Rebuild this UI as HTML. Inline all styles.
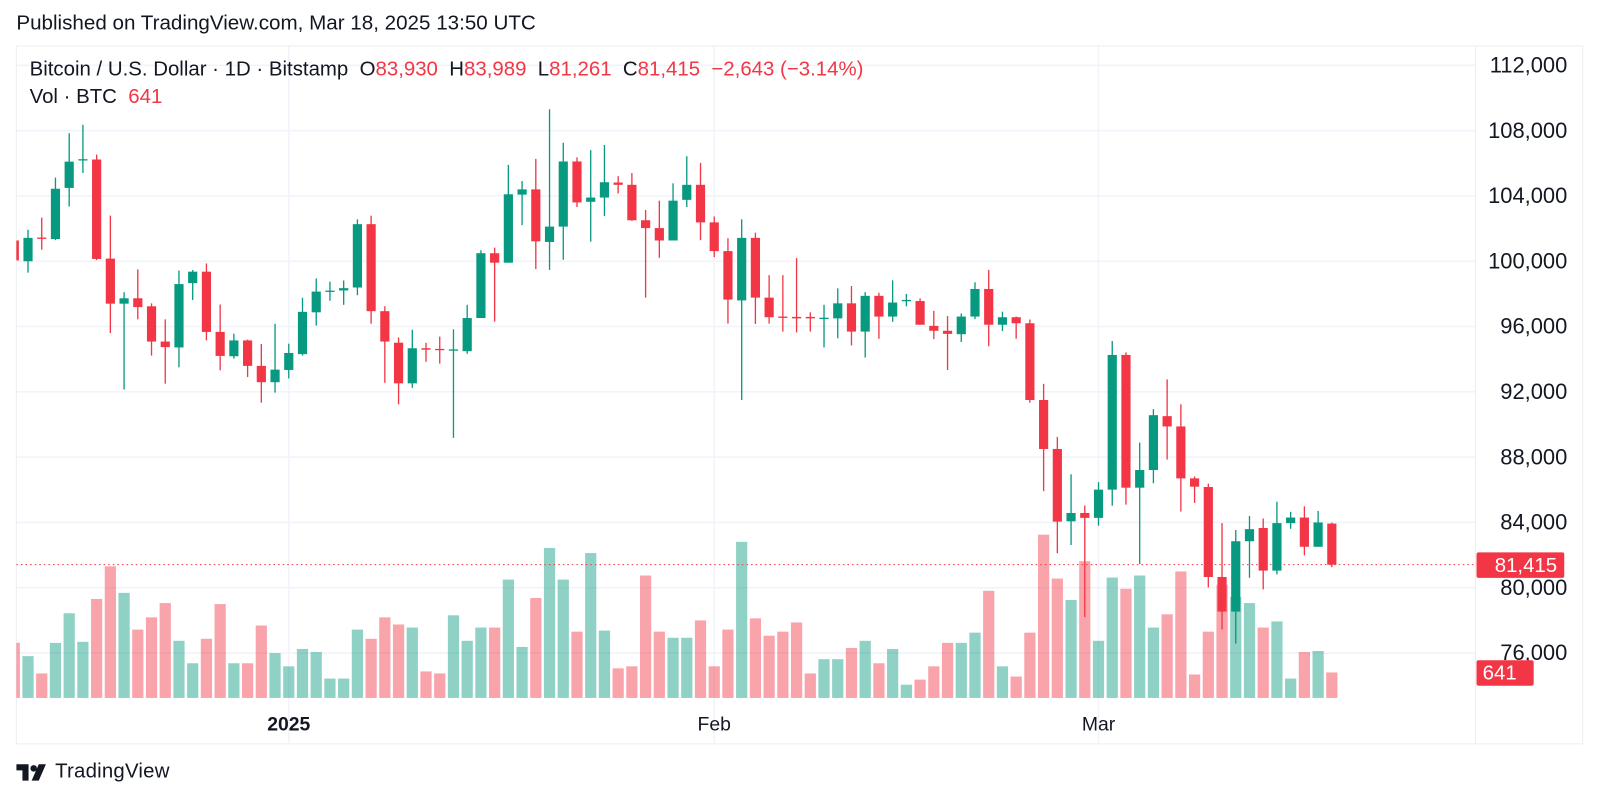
<!DOCTYPE html>
<html><head><meta charset="utf-8">
<style>
body{margin:0;background:#fff;width:1600px;height:802px;overflow:hidden;font-family:"Liberation Sans",sans-serif;color:#131722}
#root{position:absolute;left:0;top:0;width:1568px;height:786px;transform:scale(1.0204);transform-origin:0 0}
.abs{position:absolute;white-space:nowrap}
.r{color:#F23645}
</style></head>
<body>
<div id="root">
<div class="abs" style="left:16px;top:12px;font-size:20.2px">Published on TradingView.com, Mar 18, 2025 13:50 UTC</div>
<svg id="chart" width="1568" height="786" style="position:absolute;left:0;top:0"></svg>
<div class="abs" style="left:29px;top:57px;font-size:20px">Bitcoin / U.S. Dollar · 1D · Bitstamp &nbsp;O<span class="r">83,930</span> &nbsp;H<span class="r">83,989</span> &nbsp;L<span class="r">81,261</span> &nbsp;C<span class="r">81,415</span> &nbsp;<span class="r">−2,643 (−3.14%)</span></div>
<div class="abs" style="left:29px;top:84px;font-size:20px">Vol · BTC &nbsp;<span class="r">641</span></div>
<div class="abs" style="left:16px;top:745px;font-size:20px;display:flex;align-items:center">
<svg width="34" height="20" viewBox="0 0 34 20"><path d="M0 2h12v16H6V8H0z" fill="#131722"/><circle cx="17" cy="6" r="3.2" fill="#131722"/><path d="M22 2h7l-7 16h-7z" fill="#131722"/></svg>
<span style="margin-left:4px;letter-spacing:0.2px">TradingView</span></div>
</div>
<script>
const opens=[101270,100000,101450,101360,104490,106190,106230,100160,97400,97730,97240,95080,94720,98660,99360,95670,94180,95150,93590,92590,
93340,94310,96870,98120,98210,98390,102270,96940,95010,92520,94670,94630,94520,94490,96520,100490,99910,104080,104400,101180,102120,106110,103640,103900,104820,104680,102510,102030,101270,103760,104680,
102380,100620,97600,101430,97770,96610,96590,96590,96470,96500,97420,95690,97880,96610,97560,97560,96040,95740,95530,96610,98300,96110,96570,96200,91500,88500,84070,84580,
84280,86010,94260,86130,87210,90510,89880,86700,86170,80660,78540,82850,83660,81050,83960,84300,82510,83930];
const highs=[101800,101930,102670,105120,107840,108360,106530,102790,98100,99500,97420,96440,99430,99460,99860,97350,95560,95200,94930,96170,
94950,97760,98940,98750,98820,102560,102790,97240,95330,95800,95000,95380,95830,97330,100670,100830,105900,104910,106270,109310,107260,106360,106800,107120,105210,105400,103140,103710,104770,106430,106020,
102740,101410,102560,101750,99150,99150,100190,96870,97330,98340,98480,98110,98070,98830,98000,97720,96960,96640,96800,98710,99470,96910,96610,96430,92490,89240,86950,85040,
86470,95110,94420,88890,90940,92760,91240,86820,86380,83960,83540,84400,84240,85270,84650,84990,84700,83989];
const lows=[99900,99300,100700,101290,103350,105400,100070,95600,92140,96440,94220,92500,93500,97620,95150,93320,94040,92910,91340,91950,
92820,94220,96060,97580,97330,97920,96170,92550,91230,92250,93840,93730,89180,94330,96520,96300,99910,102210,99520,99470,100090,103320,101200,102770,104150,102470,97770,100210,101270,103320,101290,
100250,96180,91500,96160,96180,95690,95640,95690,94720,95280,94840,94100,95250,96290,97240,96110,95230,93340,95050,96450,94790,95720,95250,91330,85920,82110,82620,78200,
83800,85020,85090,81450,86400,87850,84670,85200,80020,77440,76580,80610,79900,80820,83610,81980,82510,81261];
const closes=[100050,101430,101400,104440,106100,106250,100140,97400,97730,97190,95080,94740,98600,99360,95670,94200,95150,93590,92590,93360,
94380,96900,98140,98200,98350,102270,96940,95080,92520,94670,94580,94560,94600,96520,100490,99910,104100,104400,101220,102120,106110,103600,103900,104840,104680,102510,102030,101270,103710,104680,102380,
100620,97650,101430,97770,96570,96540,96500,96500,96540,97420,95690,97880,96610,97470,97630,96110,95740,95550,96610,98300,96110,96570,96200,91500,88500,84050,84580,84280,
86010,94260,86130,87210,90570,89880,86700,86190,80660,78540,82850,83590,81050,83960,84300,82510,84000,81415];
const volumes=[54,41,24,54,83,55,97,129,103,67,79,93,56,34,58,92,34,34,71,44,
31,48,45,19,19,67,58,79,72,69,26,24,81,56,69,69,116,50,98,147,116,65,142,66,29,31,120,65,59,59,76,
31,67,153,78,61,65,74,24,38,38,49,56,34,48,13,18,31,54,54,64,105,31,21,64,160,117,96,134,
56,118,107,120,69,82,124,23,65,111,99,93,69,75,19,45,46,25];
const priceTicks=[112000,108000,104000,100000,96000,92000,88000,84000,80000,76000];
const dateTicks=[{i:20,t:"2025",b:true},{i:51,t:"Feb",b:false},{i:79,t:"Mar",b:false}];

const NS="http://www.w3.org/2000/svg";
const svg=document.getElementById('chart');
const X0=283-20*13.45, STEP=13.45;
const PR=1446;
const xOf=i=>X0+i*STEP;
const yOf=p=>64+(112000-p)*0.016;
const VBASE=684, VK=1.0;
function mk(tag,attrs,parent){const e=document.createElementNS(NS,tag);for(const k in attrs)e.setAttribute(k,attrs[k]);(parent||svg).appendChild(e);return e;}

const grid=mk('g',{});


priceTicks.forEach(p=>{mk('line',{x1:16,x2:PR,y1:yOf(p),y2:yOf(p),stroke:'#f0f3fa','stroke-width':1.5},grid);});
dateTicks.forEach(d=>{mk('line',{x1:xOf(d.i),x2:xOf(d.i),y1:45,y2:728,stroke:'#f0f3fa','stroke-width':1.5},grid);});
mk('rect',{x:16,y:45,width:1535,height:684,fill:'none',stroke:'#eceef2'},grid);
mk('line',{x1:PR,x2:PR,y1:45,y2:729,stroke:'#eceef2'},grid);

mk('defs',{}).innerHTML='<clipPath id="plotclip"><rect x="16" y="40" width="'+(PR-16)+'" height="690"/></clipPath>';
const plot=mk('g',{'clip-path':'url(#plotclip)'});



const vg=mk('g',{},plot);


volumes.forEach((v,i)=>{
  const up=closes[i]>=opens[i];
  const h=v*VK;
  const r=mk('rect',{x:xOf(i)-5.5,y:VBASE-h,width:11,height:h,fill:up?'rgba(8,153,129,0.45)':'rgba(242,54,69,0.45)'},vg);
  
  
});
const pl=mk('line',{x1:16,x2:PR,y1:yOf(closes[closes.length-1]),y2:yOf(closes[closes.length-1]),stroke:'#F23645','stroke-width':1,'stroke-dasharray':'1.5 3'},plot);


const cg=mk('g',{},plot);


opens.forEach((o,i)=>{
  const c=closes[i],up=c>=o,col=up?'#089981':'#F23645';
  const x=xOf(i);
  const g=mk('g',{},cg);
  
  
  mk('line',{x1:x,x2:x,y1:yOf(highs[i]),y2:yOf(lows[i]),stroke:col,'stroke-width':1.3},g);
  const top=yOf(Math.max(o,c)),bot=yOf(Math.min(o,c));
  mk('rect',{x:x-4.5,y:top,width:9,height:Math.max(1.3,bot-top),fill:col},g);
});

const ax=mk('g',{});


priceTicks.forEach(p=>{
  const t=mk('text',{x:1536,y:yOf(p)+7,'text-anchor':'end','font-size':21.5,fill:'#131722','font-family':'Liberation Sans, sans-serif'},ax);
  t.textContent=p.toLocaleString('en-US');
});
const lastY=yOf(closes[closes.length-1]);
const lb=mk('g',{});


mk('rect',{x:1447,y:lastY-12,width:86,height:25,rx:2,fill:'#F23645'},lb);
const lt=mk('text',{x:1526,y:lastY+7,'text-anchor':'end','font-size':20,fill:'#fff','font-family':'Liberation Sans, sans-serif'},lb);
lt.textContent=closes[closes.length-1].toLocaleString('en-US');
const vb=mk('g',{});


mk('rect',{x:1447,y:647,width:56,height:25,rx:2,fill:'#F23645'},vb);
const vt=mk('text',{x:1453,y:666,'font-size':20,fill:'#fff','font-family':'Liberation Sans, sans-serif'},vb);
vt.textContent='641';
const dx=mk('g',{});


dateTicks.forEach(d=>{
  const t=mk('text',{x:xOf(d.i),y:716,'text-anchor':'middle','font-size':19,fill:'#131722','font-weight':d.b?'bold':'normal','font-family':'Liberation Sans, sans-serif'},dx);
  t.textContent=d.t;
});
</script>
</body></html>
